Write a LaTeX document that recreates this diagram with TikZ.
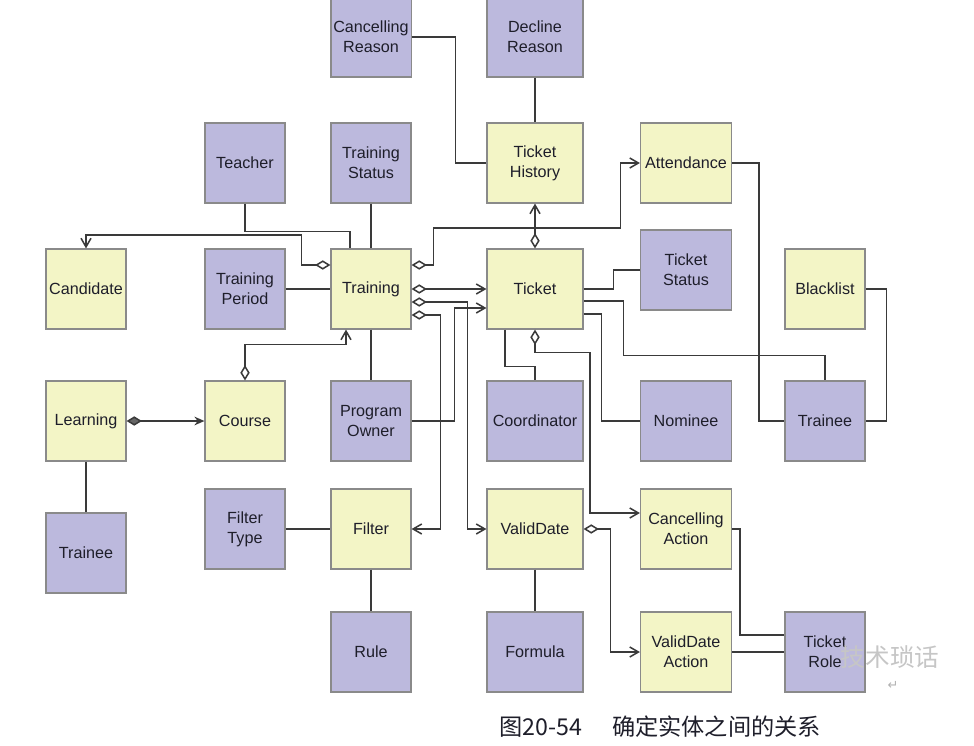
\documentclass[tikz,border=0pt]{standalone}
\usepackage{fontspec}
\setmainfont{Liberation Sans}
\newfontfamily\cjk{Noto Sans CJK SC}
\newfontfamily\symf{DejaVu Sans}
\usetikzlibrary{arrows.meta,calc}
\definecolor{entyellow}{HTML}{F3F5C6}
\definecolor{valpurple}{HTML}{BCB9DD}
\definecolor{boxgray}{HTML}{8A8A8A}
\definecolor{linegray}{HTML}{3A3A3A}
\definecolor{textdark}{HTML}{1E1E2A}

\begin{document}
\begin{tikzpicture}[x=0.3mm, y=-0.3mm,
  box/.style={draw=boxgray, line width=1pt, align=center, inner sep=2pt, minimum width=24mm, minimum height=24mm, text=textdark, font=\fontsize{13.8}{17}\selectfont},
  ent/.style={box, fill=entyellow},
  val/.style={box, fill=valpurple},
  wide/.style={minimum width=28.8mm},
  mid/.style={minimum width=27.3mm},
  link/.style={line width=1.3pt, linegray},
  arr/.style={link, -{Straight Barb[length=2.6mm,width=3mm]}},
  dia/.style={link, {Diamond[length=4.6mm,width=2.8mm,fill=white]}-},
  diaarr/.style={link, {Diamond[length=4.6mm,width=2.8mm,fill=white]}-{Straight Barb[length=2.6mm,width=3mm]}}]

\path[use as bounding box, fill=white] (0,0) rectangle (974,746);

\node[val] at (371,37) (canres) {Cancelling\\Reason};
\node[val, wide] at (535,37) (decline) {Decline\\Reason};
\node[val] at (245,163) (teacher) {Teacher};
\node[val] at (371,163) (trstatus) {Training\\Status};
\node[ent, wide] at (535,163) (tkhist) {Ticket\\History};
\node[ent, mid] at (686,163) (attend) {Attendance};
\node[ent] at (86,289) (candidate) {Candidate};
\node[val] at (245,289) (trperiod) {Training\\Period};
\node[ent] at (371,289) (training) {Training};
\node[ent, wide] at (535,289) (ticket) {Ticket};
\node[val, mid] at (686,270) (tkstatus) {Ticket\\Status};
\node[ent] at (825,289) (blacklist) {Blacklist};
\node[ent] at (86,421) (learning) {Learning};
\node[ent] at (245,421) (course) {Course};
\node[val] at (371,421) (progowner) {Program\\Owner};
\node[val, wide] at (535,421) (coord) {Coordinator};
\node[val, mid] at (686,421) (nominee) {Nominee};
\node[val] at (825,421) (traineeb) {Trainee};
\node[val] at (86,553) (traineea) {Trainee};
\node[val] at (245,529) (filtype) {Filter\\Type};
\node[ent] at (371,529) (filter) {Filter};
\node[ent, wide] at (535,529) (valdate) {ValidDate};
\node[ent, mid] at (686,529) (canaction) {Cancelling\\Action};
\node[val] at (371,652) (rule) {Rule};
\node[val, wide] at (535,652) (formula) {Formula};
\node[ent, mid] at (686,652) (vdaction) {ValidDate\\Action};
\node[val] at (825,652) (tkrole) {Ticket\\Role};

\draw[link] (canres.east) -- ++(44,0) |- (tkhist.west);
\draw[link] (decline) -- (tkhist);
\draw[diaarr] (ticket) -- (tkhist);
\draw[diaarr] ($(training.east)+(0,-24)$) -- ++(22,0) |- ++(187,-37) |- (attend.west);
\draw[diaarr] (training) -- (ticket);
\draw[diaarr] ($(training.east)+(0,13)$) -- ++(56,0) |- (valdate.west);
\draw[diaarr] ($(training.east)+(0,26)$) -- ++(29,0) |- (filter.east);
\draw[arr] (progowner.east) -- ++(43,0) |- ($(ticket.west)+(0,19)$);
\draw[link] ($(ticket.south)+(-30,0)$) -- ++(0,37) -| (coord.north);
\draw[diaarr] (ticket.south) -- ++(0,23) -| ($(canaction.west)+(-50,-16)$) -- ($(canaction.west)+(0,-16)$);
\draw[diaarr] (valdate.east) -- ++(27,0) |- (vdaction.west);
\draw[link] (ticket.east) -- ++(30,0) |- (tkstatus.west);
\draw[link] ($(ticket.east)+(0,12)$) -- ++(40,0) |- ($(traineeb.north)+(0,-25)$) -- (traineeb.north);
\draw[link] ($(ticket.east)+(0,25)$) -- ++(18,0) |- (nominee.west);
\draw[link] (attend.east) -- ++(27,0) |- (traineeb.west);
\draw[link] (blacklist.east) -- ++(21,0) |- (traineeb.east);
\draw[link] (canaction.east) -- ++(8,0) |- ($(tkrole.west)+(0,-17)$);
\draw[link] (vdaction) -- (tkrole);
\draw[link] (trstatus) -- (training);
\draw[link] (teacher.south) -- ++(0,28) -| ($(training.north)+(-21,0)$);
\draw[diaarr] ($(training.west)+(0,-24)$) -- ++(-29,0) -- ++(0,-30) -| (candidate.north);
\draw[link] (trperiod) -- (training);
\draw[diaarr] (course.north) -- ++(0,-36) -| ($(training.south)+(-25,0)$);
\draw[link] (training) -- (progowner);
\draw[link, {Diamond[length=4.6mm,width=2.8mm,fill=gray!80!black]}-{Stealth[length=3mm,width=2.6mm]}] (learning) -- (course);
\draw[link] (learning) -- (traineea);
\draw[link] (filtype) -- (filter);
\draw[link] (filter) -- (rule);
\draw[link] (valdate) -- (formula);

\node[anchor=west, text=textdark, font=\cjk\fontsize{19.8}{22}\selectfont] at (495,727) (capnum) {图20-54};
\node[anchor=west, text=textdark, font=\cjk\fontsize{19.8}{22}\selectfont] at (608,727) (captext) {确定实体之间的关系};
\node[text=gray!45, font=\cjk\fontsize{21}{24}\selectfont] at (890,657) (wmark) {技术琐话};
\node[text=gray!60, font=\symf\fontsize{11}{11}\selectfont] at (893,685) (wret) {↵};
\end{tikzpicture}
\end{document}
